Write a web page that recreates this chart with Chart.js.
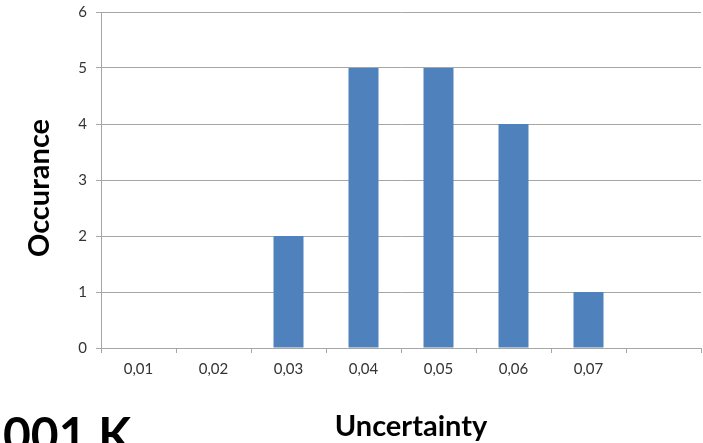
<!DOCTYPE html>
<html>
<head>
<meta charset="utf-8">
<script src="https://cdn.jsdelivr.net/npm/chart.js@4.4.1/dist/chart.umd.min.js"></script>
<style>
  html, body { margin: 0; padding: 0; background: #ffffff; }
  #wrap { width: 703px; height: 443px; position: relative; }
</style>
</head>
<body>
<div id="wrap"><canvas id="uncertaintyChart" width="703" height="443"></canvas></div>
<script>
// Chart data
const uncertaintyLabels = ['0,01', '0,02', '0,03', '0,04', '0,05', '0,06', '0,07', ''];
const occuranceCounts = [0, 0, 2, 5, 5, 4, 1, null];
const yTickValues = [0, 1, 2, 3, 4, 5, 6];
const xAxisTitle = 'Uncertainty';
const yAxisTitle = 'Occurance';
const cornerText = '001 K';

const gridColor = '#a6a6a6';
const labelColor = '#333333';

// Axis titles sit a little off centre, plus a big cut-off caption in the lower left
const extraTexts = {
    id: 'extraTexts',
    afterDraw(chart) {
        const ctx = chart.ctx;
        ctx.save();
        ctx.fillStyle = '#000000';
        ctx.textBaseline = 'alphabetic';
        ctx.textAlign = 'center';
        ctx.font = 'bold 29px Lato';
        ctx.fillText(xAxisTitle, 411, 436);

        ctx.save();
        ctx.translate(49, 188);
        ctx.rotate(-Math.PI / 2);
        ctx.fillText(yAxisTitle, 0, 0);
        ctx.restore();

        ctx.font = 'bold 48px Lato';
        ctx.textAlign = 'left';
        ctx.fillText(cornerText, 3, 452);
        ctx.restore();
    }
};

const chartContext = document.getElementById('uncertaintyChart').getContext('2d');
new Chart(chartContext, {
    type: 'bar',
    data: {
        labels: uncertaintyLabels,
        datasets: [{
            label: yAxisTitle,
            data: occuranceCounts,
            backgroundColor: '#4f81bd',
            borderWidth: 0,
            categoryPercentage: 1,
            barPercentage: 0.4
        }]
    },
    options: {
        responsive: false,
        animation: false,
        layout: { padding: { top: 12, right: 2, left: 0, bottom: 0 } },
        plugins: {
            legend: { display: false },
            tooltip: { enabled: false }
        },
        scales: {
            x: {
                offset: true,
                afterFit(scale) { scale.height = 95; },
                grid: {
                    offset: true,
                    drawOnChartArea: false,
                    drawTicks: true,
                    tickLength: 5,
                    color: gridColor
                },
                border: { color: gridColor },
                ticks: {
                    color: labelColor,
                    font: { family: 'Lato', size: 15 },
                    padding: 7,
                    maxRotation: 0,
                    autoSkip: false
                }
            },
            y: {
                min: 0,
                max: 6,
                afterFit(scale) {
                    scale.width = 101;
                    scale.paddingTop = 0;
                    scale.paddingBottom = 0;
                },
                afterBuildTicks(scale) {
                    scale.ticks = yTickValues.map(v => ({ value: v }));
                },
                grid: {
                    drawTicks: true,
                    tickLength: 5,
                    color: gridColor
                },
                border: { color: gridColor },
                ticks: {
                    color: labelColor,
                    font: { family: 'Lato', size: 15 },
                    padding: 9
                }
            }
        }
    },
    plugins: [extraTexts]
});
</script>
</body>
</html>
